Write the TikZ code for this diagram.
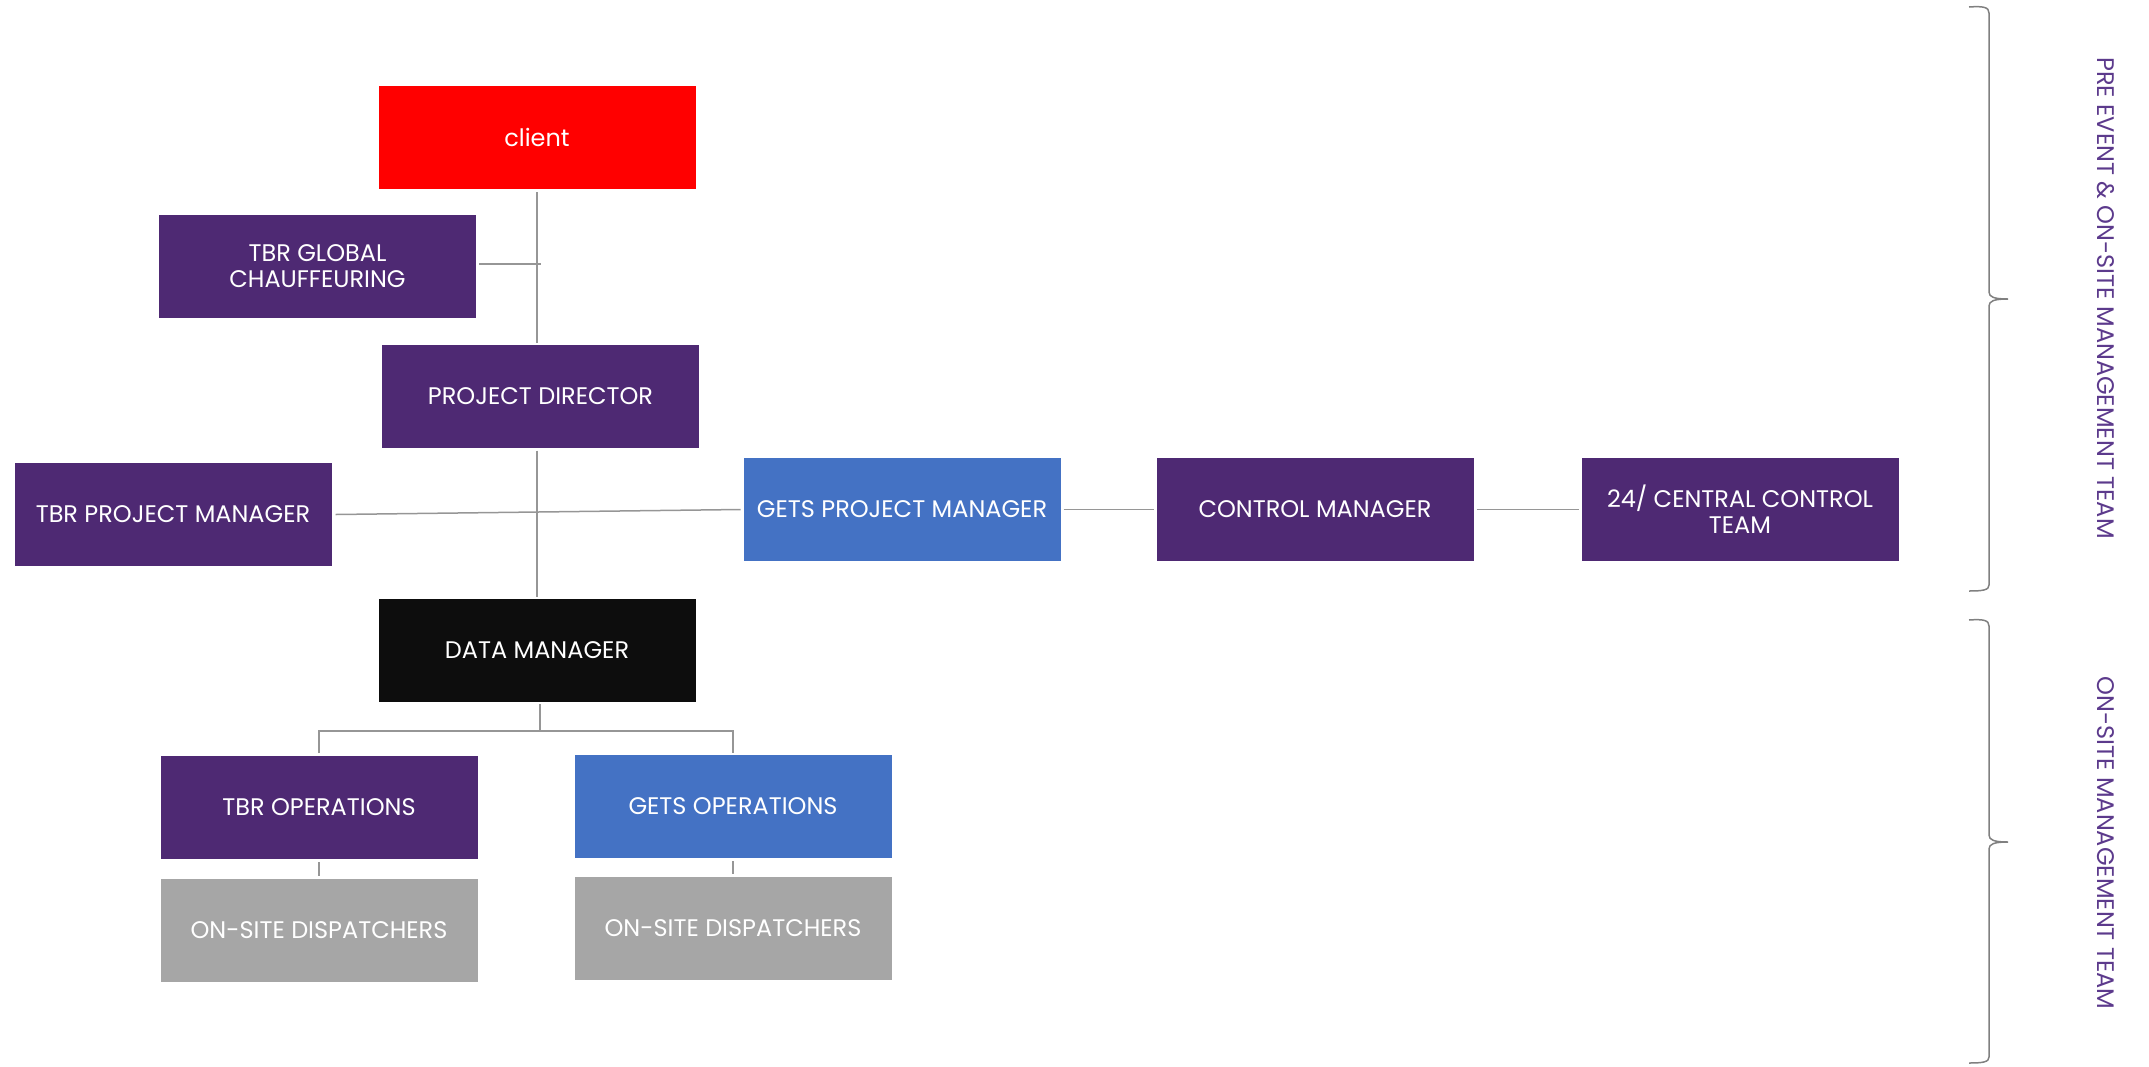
\documentclass[tikz,border=0pt]{standalone}
\usepackage{fontspec}
\setmainfont{Poppins}
\usetikzlibrary{calc}
\definecolor{tbrpurple}{RGB}{78,41,115}
\definecolor{getsblue}{RGB}{68,114,196}
\definecolor{clientred}{RGB}{255,0,0}
\definecolor{dmblack}{RGB}{13,13,13}
\definecolor{dispgray}{RGB}{166,166,166}
\definecolor{linegray}{RGB}{150,150,150}
\definecolor{bracegray}{RGB}{128,128,128}
\definecolor{labelpurple}{RGB}{92,58,140}
\begin{document}
\begin{tikzpicture}[x=1pt,y=-1pt,
  box/.style={rectangle, minimum width=317pt, minimum height=103pt, inner sep=0pt, outer sep=0pt,
    text=white, font=\fontsize{24}{26}\selectfont, align=center},
  purplebox/.style={box, fill=tbrpurple},
  bluebox/.style={box, fill=getsblue},
  redbox/.style={box, fill=clientred},
  blackbox/.style={box, fill=dmblack},
  graybox/.style={box, fill=dispgray},
  conn/.style={draw=linegray, line width=1.5pt},
  bracket/.style={draw=bracegray, line width=1.5pt},
  sidelabel/.style={rotate=-90, text=labelpurple, font=\fontsize{24}{26}\selectfont, inner sep=0pt}]
\useasboundingbox (0,0) rectangle (2149,1066);

\node[redbox] (client) at (537,137.5) {client};
\node[purplebox] (glob) at (317.5,266.5) {TBR GLOBAL\\CHAUFFEURING};
\node[purplebox] (pd) at (540.5,396) {PROJECT DIRECTOR};
\node[purplebox] (tbrpm) at (173,514.5) {TBR PROJECT MANAGER};
\node[bluebox] (getspm) at (902,509.5) {GETS PROJECT MANAGER};
\node[purplebox] (cm) at (1315,509.5) {CONTROL MANAGER};
\node[purplebox] (cct) at (1740,509.5) {24/ CENTRAL CONTROL\\TEAM};
\node[blackbox] (dm) at (537,650.5) {DATA MANAGER};
\node[purplebox] (tbrops) at (319,807.5) {TBR OPERATIONS};
\node[bluebox] (getsops) at (733,806.5) {GETS OPERATIONS};
\node[graybox] (disp1) at (319,930.5) {ON-SITE DISPATCHERS};
\node[graybox] (disp2) at (733,928.5) {ON-SITE DISPATCHERS};

% connectors
\draw[conn] ($(client.south)+(0,3)$) -- ($(client.south |- pd.north)+(0,-2)$);
\draw[conn] ($(glob.east)+(3,-2.5)$) -- ($(glob.east)+(65,-2.5)$);
\draw[conn] ($(dm.north |- pd.south)+(0,3)$) -- ($(dm.north)+(0,-2)$);
\draw[conn] ($(tbrpm.east)+(4,0)$) -- ($(getspm.west)+(-3,0)$);
\draw[conn] ($(getspm.east)+(3,0)$) -- ($(cm.west)+(-3,0)$);
\draw[conn] ($(cm.east)+(3,0)$) -- ($(cct.west)+(-3,0)$);
\draw[conn] ($(dm.south)+(3,2)$) -- ($(dm.south)+(3,29)$);
\draw[conn] ($(tbrops.north)+(0,-3)$) -- ++(0,-22) -| ($(getsops.north)+(0,-2)$);
\draw[conn] ($(tbrops.south)+(0,3)$) -- ($(disp1.north)+(0,-3)$);
\draw[conn] ($(getsops.south)+(0,3)$) -- ($(disp2.north)+(0,-3)$);

% braces
\draw[bracket] (1969,7) .. controls (1983,6) and (1989,7) .. (1989,13)
  -- (1989,292) .. controls (1989,297) and (1994,299) .. (2008,299)
  .. controls (1994,299) and (1989,301) .. (1989,306)
  -- (1989,585) .. controls (1989,590) and (1983,591) .. (1969,591);
\draw[bracket] (1969,620) .. controls (1983,619) and (1989,620) .. (1989,626)
  -- (1989,835) .. controls (1989,840) and (1994,842) .. (2008,842)
  .. controls (1994,842) and (1989,844) .. (1989,849)
  -- (1989,1057) .. controls (1989,1062) and (1983,1063) .. (1969,1063);

\node[sidelabel] (lab1) at (2106,298) {PRE EVENT \& ON-SITE MANAGEMENT TEAM};
\node[sidelabel] (lab2) at (2106,843) {ON-SITE MANAGEMENT TEAM};
\end{tikzpicture}
\end{document}
